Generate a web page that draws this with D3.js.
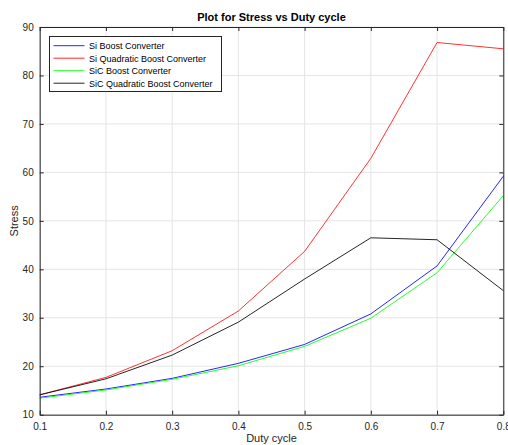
<!DOCTYPE html>
<html><head><meta charset="utf-8">
<script src="https://cdn.jsdelivr.net/npm/d3@7"></script>
<style>body{margin:0;background:#fff;} text{font-family:"Liberation Sans",Arial,sans-serif;}</style>
</head><body>
<svg id="c" width="508" height="445"></svg>
<script>
const duty = [0.1,0.2,0.3,0.4,0.5,0.6,0.7,0.8];
const siBoost = [13.6,15.3,17.5,20.6,24.5,30.8,40.7,59.2];
const siQuad = [14.1,17.7,23.2,31.4,43.7,62.9,86.8,85.5];
const sicBoost = [13.4,15.1,17.3,20.1,24.1,29.9,39.3,55.2];
const sicQuad = [14.1,17.4,22.3,29.1,38.0,46.5,46.1,35.6];
const seriesNames = ["Si Boost Converter","Si Quadratic Boost Converter","SiC Boost Converter","SiC Quadratic Boost Converter"];
const seriesColors = ["#0000ff","#ff0000","#00ff00","#000000"];
const seriesData = [siBoost, siQuad, sicBoost, sicQuad];
const xTicks = [0.1,0.2,0.3,0.4,0.5,0.6,0.7,0.8];
const yTicks = [10,20,30,40,50,60,70,80,90];

const svg = d3.select("#c");
const L=39.7, R=503.3, T=27, B=414.7;
const x = d3.scaleLinear().domain([0.1,0.8]).range([L,R]);
const y = d3.scaleLinear().domain([10,90]).range([B,T]);
const axisCol = "#262626";

// grid
const g = svg.append("g");
g.selectAll(".vg").data(xTicks).enter().append("line")
  .attr("x1",d=>x(d)).attr("x2",d=>x(d)).attr("y1",T).attr("y2",B)
  .attr("stroke","#e5e5e5").attr("stroke-width",1);
g.selectAll(".hg").data(yTicks).enter().append("line")
  .attr("y1",d=>y(d)).attr("y2",d=>y(d)).attr("x1",L).attr("x2",R)
  .attr("stroke","#e5e5e5").attr("stroke-width",1);

// lines
const line = d3.line().x((d,i)=>x(duty[i])).y(d=>y(d));
seriesData.forEach((s,k)=>{
  svg.append("path").datum(s).attr("d",line).attr("fill","none")
    .attr("stroke",seriesColors[k]).attr("stroke-width",1)
    .attr("stroke-opacity", k==1?0.8:0.85);
});

// axes
const fmtX = d=>d3.format(".1f")(d);
const xb = svg.append("g").attr("transform",`translate(0,${B})`)
  .call(d3.axisBottom(x).tickValues(xTicks).tickFormat(fmtX).tickSizeInner(-4).tickSizeOuter(0).tickPadding(8));
const xt = svg.append("g").attr("transform",`translate(0,${T})`)
  .call(d3.axisTop(x).tickValues(xTicks).tickFormat("").tickSizeInner(-4).tickSizeOuter(0));
const yl = svg.append("g").attr("transform",`translate(${L},0)`)
  .call(d3.axisLeft(y).tickValues(yTicks).tickSizeInner(-4).tickSizeOuter(0).tickPadding(6));
const yr = svg.append("g").attr("transform",`translate(${R},0)`)
  .call(d3.axisRight(y).tickValues(yTicks).tickFormat("").tickSizeInner(-4).tickSizeOuter(0));
[xb,xt,yl,yr].forEach(a=>{
  a.select(".domain").attr("stroke",axisCol).attr("stroke-width",1);
  a.selectAll(".tick line").attr("stroke",axisCol);
  a.selectAll("text").attr("fill",axisCol).style("font-size","10px").style("font-family","'Liberation Sans',Arial,sans-serif");
});

// title & labels
svg.append("text").attr("x",(L+R)/2).attr("y",21).attr("text-anchor","middle")
  .style("font-size","11px").style("font-weight","bold").attr("fill","#000").text("Plot for Stress vs Duty cycle");
svg.append("text").attr("x",(L+R)/2).attr("y",442).attr("text-anchor","middle")
  .style("font-size","11px").attr("fill",axisCol).text("Duty cycle");
svg.append("text").attr("transform",`translate(18,${(T+B)/2}) rotate(-90)`).attr("text-anchor","middle")
  .style("font-size","11px").attr("fill",axisCol).text("Stress");

// legend
const lg = svg.append("g");
lg.append("rect").attr("x",49.5).attr("y",36.5).attr("width",172).attr("height",55)
  .attr("fill","#fff").attr("stroke",axisCol).attr("stroke-width",1);
seriesNames.forEach((n,k)=>{
  const yy = 45.7 + k*12.5;
  lg.append("line").attr("x1",53.5).attr("x2",84.5).attr("y1",yy).attr("y2",yy)
    .attr("stroke",seriesColors[k]).attr("stroke-width",1).attr("stroke-opacity",0.85);
  lg.append("text").attr("x",89).attr("y",yy+3.3).style("font-size","9px").attr("fill","#000").text(n);
});
</script>
</body></html>
